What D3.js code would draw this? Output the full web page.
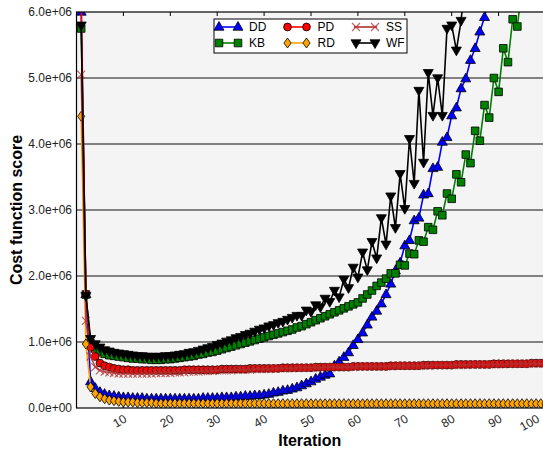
<!DOCTYPE html>
<html><head><meta charset="utf-8">
<script src="https://cdn.jsdelivr.net/npm/d3@7"></script>
<style>body{margin:0;background:#fff}svg{display:block;font-family:"Liberation Sans",Arial,Helvetica,sans-serif}</style>
</head><body><svg id="c" width="543" height="454"></svg>
<script>
// x categories: iteration number
const iterations = d3.range(1, 101);
const xTicks = [10, 20, 30, 40, 50, 60, 70, 80, 90, 100];
const yTicks = [0, 1, 2, 3, 4, 5, 6]; // in millions
const yTickLabels = ["0.0e+00", "1.0e+06", "2.0e+06", "3.0e+06", "4.0e+06", "5.0e+06", "6.0e+06"];

// series values in millions (x 1e6)
const DD = [6.0,1.72,0.40,0.30,0.24,0.21,0.19,0.18,0.17,0.16,
0.16,0.15,0.15,0.15,0.14,0.14,0.14,0.14,0.14,0.14,
0.14,0.14,0.14,0.14,0.14,0.14,0.15,0.15,0.15,0.15,
0.16,0.16,0.16,0.17,0.17,0.18,0.18,0.19,0.19,0.20,
0.21,0.23,0.24,0.26,0.27,0.29,0.31,0.34,0.37,0.40,
0.44,0.47,0.50,0.52,0.64,0.70,0.77,0.84,0.95,1.04,
1.14,1.26,1.38,1.47,1.58,1.72,1.88,2.08,2.20,2.46,
2.54,2.84,2.88,3.23,3.25,3.63,3.65,4.03,4.10,4.43,
4.55,4.84,4.99,5.27,5.45,5.70,5.92,6.25,6.45,6.80,
7.05,7.40,7.65,8.05,8.30,8.70,9.00,9.40,9.75,10.2];
const KB = [5.75,1.72,0.98,0.90,0.85,0.82,0.80,0.79,0.78,0.77,
0.76,0.75,0.75,0.74,0.74,0.73,0.73,0.73,0.74,0.74,
0.75,0.76,0.77,0.78,0.79,0.81,0.82,0.84,0.85,0.87,
0.89,0.91,0.93,0.95,0.97,0.99,1.01,1.03,1.05,1.07,
1.09,1.11,1.13,1.15,1.17,1.19,1.22,1.24,1.27,1.30,
1.33,1.36,1.39,1.42,1.45,1.48,1.51,1.54,1.57,1.60,
1.66,1.72,1.78,1.85,1.90,1.96,2.04,2.04,2.17,2.16,
2.34,2.33,2.54,2.52,2.74,2.70,2.98,2.92,3.25,3.17,
3.54,3.42,3.84,3.71,4.20,4.05,4.59,4.40,5.00,4.79,
5.45,5.24,5.89,5.78,6.40,6.30,7.00,6.80,7.60,7.40];
const PD = [6.20,1.72,0.92,0.78,0.68,0.64,0.62,0.60,0.59,0.58,
0.58,0.57,0.57,0.57,0.57,0.57,0.57,0.57,0.57,0.57,
0.57,0.57,0.58,0.58,0.58,0.58,0.58,0.58,0.58,0.58,
0.59,0.59,0.59,0.59,0.59,0.59,0.60,0.60,0.60,0.60,
0.60,0.60,0.60,0.61,0.61,0.61,0.61,0.61,0.61,0.61,
0.62,0.62,0.62,0.62,0.62,0.62,0.62,0.62,0.63,0.63,
0.63,0.63,0.63,0.63,0.63,0.63,0.64,0.64,0.64,0.64,
0.64,0.64,0.64,0.65,0.65,0.65,0.65,0.65,0.65,0.65,
0.66,0.66,0.66,0.66,0.66,0.66,0.66,0.66,0.67,0.67,
0.67,0.67,0.67,0.67,0.67,0.67,0.68,0.68,0.68,0.68];
const RD = [4.42,0.97,0.32,0.22,0.17,0.14,0.12,0.11,0.10,0.09,
0.09,0.09,0.08,0.08,0.08,0.08,0.07,0.07,0.07,0.07,
0.07,0.07,0.07,0.07,0.07,0.07,0.07,0.07,0.07,0.07,
0.07,0.07,0.07,0.07,0.07,0.07,0.07,0.07,0.07,0.07,
0.065,0.065,0.065,0.065,0.065,0.065,0.065,0.065,0.065,0.065,
0.065,0.065,0.065,0.065,0.065,0.065,0.065,0.065,0.065,0.065,
0.065,0.065,0.065,0.065,0.065,0.065,0.065,0.065,0.065,0.065,
0.065,0.065,0.065,0.065,0.065,0.065,0.065,0.065,0.065,0.065,
0.065,0.065,0.065,0.065,0.065,0.065,0.065,0.065,0.065,0.065,
0.065,0.065,0.065,0.065,0.065,0.065,0.065,0.065,0.065,0.065];
const SS = [5.05,1.32,0.78,0.62,0.57,0.55,0.54,0.53,0.52,0.52,
0.52,0.52,0.52,0.52,0.52,0.52,0.53,0.53,0.53,0.53,
0.54,0.54,0.54,0.55,0.55,0.55,0.56,0.56,0.56,0.57,
0.57,0.57,0.57,0.58,0.58,0.58,0.58,0.59,0.59,0.59,
0.59,0.60,0.60,0.60,0.60,0.60,0.61,0.61,0.61,0.61,
0.61,0.61,0.62,0.62,0.62,0.62,0.62,0.62,0.62,0.63,
0.63,0.63,0.63,0.63,0.63,0.63,0.63,0.64,0.64,0.64,
0.64,0.64,0.64,0.64,0.64,0.65,0.65,0.65,0.65,0.65,
0.65,0.65,0.65,0.66,0.66,0.66,0.66,0.66,0.66,0.66,
0.66,0.67,0.67,0.67,0.67,0.67,0.67,0.67,0.67,0.67];
const WF = [5.80,1.70,1.05,0.97,0.92,0.88,0.86,0.84,0.83,0.82,
0.81,0.80,0.79,0.79,0.78,0.78,0.78,0.78,0.79,0.79,
0.80,0.81,0.82,0.84,0.85,0.87,0.89,0.91,0.93,0.96,
0.98,1.01,1.03,1.06,1.08,1.11,1.13,1.16,1.19,1.21,
1.24,1.26,1.29,1.31,1.34,1.37,1.40,1.40,1.48,1.46,
1.56,1.53,1.66,1.61,1.78,1.68,1.95,1.82,2.13,1.98,
2.36,2.09,2.52,2.27,2.88,2.48,3.21,2.73,3.55,3.02,
4.08,3.40,4.81,3.72,5.08,4.43,5.00,4.43,5.75,5.80,
5.42,5.87,6.60,6.40,7.20,6.90,7.80,7.40,8.40,8.00,
9.00,8.60,9.60,9.20,10.3,9.80,11.0,10.5,11.7,11.2];

const seriesNames = ["DD", "KB", "PD", "RD", "SS", "WF"];
const seriesData = {DD, KB, PD, RD, SS, WF};
const colors = {DD: "#0000ff", KB: "#008000", PD: "#ff0000", RD: "#ffa500", SS: "#b03030", WF: "#000000"};
const markers = {DD: "triUp", KB: "square", PD: "circle", RD: "diamond", SS: "x", WF: "triDown"};

const svg = d3.select("#c");
const L = 76.5, T = 12, B = 408, R = 545.5;
const x = d3.scaleLinear().domain([0, 100]).range([L, R]);
const y = d3.scaleLinear().domain([0, 6]).range([B, T]);

svg.append("defs").append("clipPath").attr("id", "clip")
  .append("rect").attr("x", L).attr("y", T).attr("width", R - L).attr("height", B - T);

svg.append("rect").attr("x", L).attr("y", T).attr("width", R - L).attr("height", B - T).attr("fill", "#f4f4f4");

// gridlines
svg.append("g").selectAll("line").data(yTicks.slice(1, -1)).join("line")
  .attr("x1", L).attr("x2", R).attr("y1", d => y(d)).attr("y2", d => y(d))
  .attr("stroke", "#111").attr("stroke-width", 1);

// y axis labels
svg.append("g").selectAll("text").data(yTicks).join("text")
  .attr("x", 72).attr("y", d => y(d)).attr("dy", "0.35em")
  .attr("text-anchor", "end").attr("font-size", 12).attr("fill", "#222")
  .text((d, i) => yTickLabels[i]);

// x ticks (top and bottom, inward)
const tg = svg.append("g");
tg.selectAll("line.t").data(xTicks).join("line").attr("class", "t")
  .attr("x1", d => x(d)).attr("x2", d => x(d)).attr("y1", T).attr("y2", T + 4)
  .attr("stroke", "#000");
tg.selectAll("line.b").data(xTicks).join("line").attr("class", "b")
  .attr("x1", d => x(d)).attr("x2", d => x(d)).attr("y1", B).attr("y2", B - 4)
  .attr("stroke", "#000");
svg.append("g").selectAll("text").data(xTicks).join("text")
  .attr("transform", d => `translate(${Math.min(x(d), 536)},${B + 6}) rotate(-30)`)
  .attr("text-anchor", "end").attr("dy", "0.7em").attr("font-size", 12).attr("fill", "#222")
  .text(d => d);

function markerPath(type) {
  switch (type) {
    case "triUp": return "M0,-5.5L5,3.2L-5,3.2Z";
    case "triDown": return "M0,5.5L5,-3.2L-5,-3.2Z";
    case "square": return "M-3.8,-3.8H3.8V3.8H-3.8Z";
    case "circle": return d3.symbol(d3.symbolCircle, 48)();
    case "diamond": return "M0,-5L3.6,0L0,5L-3.6,0Z";
    case "x": return "M-4,-4L4,4M-4,4L4,-4";
  }
}
function drawMarker(sel, name) {
  const t = markers[name];
  sel.attr("d", markerPath(t));
  if (t === "x") {
    sel.attr("fill", "none").attr("stroke", colors[name]).attr("stroke-width", 1.2).attr("stroke-opacity", 0.75);
  } else {
    sel.attr("fill", colors[name]).attr("stroke", "#000").attr("stroke-width", 0.8);
  }
}

const plot = svg.append("g").attr("clip-path", "url(#clip)");
const line = d3.line().x((d, i) => x(iterations[i])).y(d => y(d));
seriesNames.forEach(name => {
  const g = plot.append("g");
  const vals = seriesData[name];
  g.append("path").datum(vals).attr("d", line).attr("fill", "none")
    .attr("stroke", colors[name]).attr("stroke-width", 1.6)
    .attr("stroke-opacity", name === "SS" ? 0.85 : 1);
  g.selectAll("path.m").data(vals).join("path").attr("class", "m")
    .attr("transform", (d, i) => `translate(${x(iterations[i])},${y(d)})`)
    .call(drawMarker, name);
});

// frame
svg.append("rect").attr("x", L).attr("y", T).attr("width", R - L).attr("height", B - T)
  .attr("fill", "none").attr("stroke", "#000").attr("stroke-width", 1.2);

// axis titles
svg.append("text").attr("x", (L + 543) / 2).attr("y", 446).attr("text-anchor", "middle")
  .attr("font-size", 16).attr("font-weight", "bold").text("Iteration");
svg.append("text").attr("transform", `translate(22,${(T + B) / 2}) rotate(-90)`)
  .attr("text-anchor", "middle").attr("font-size", 16).attr("font-weight", "bold").text("Cost function score");

// legend
const lg = svg.append("g");
lg.append("rect").attr("x", 214).attr("y", 19).attr("width", 193).attr("height", 34)
  .attr("fill", "#fff").attr("stroke", "#000").attr("stroke-width", 1);
const legendCols = [217, 285.5, 354];
const legendRows = [27, 43];
seriesNames.forEach((name, i) => {
  const cx = legendCols[Math.floor(i / 2)], cy = legendRows[i % 2];
  lg.append("line").attr("x1", cx).attr("x2", cx + 23).attr("y1", cy).attr("y2", cy)
    .attr("stroke", colors[name]).attr("stroke-width", 1.6);
  [cx + 2, cx + 21].forEach(mx => {
    lg.append("path").attr("transform", `translate(${mx},${cy})`).call(drawMarker, name);
  });
  lg.append("text").attr("x", cx + 32).attr("y", cy).attr("dy", "0.35em")
    .attr("font-size", 12).text(name);
});
</script>
</body></html>
